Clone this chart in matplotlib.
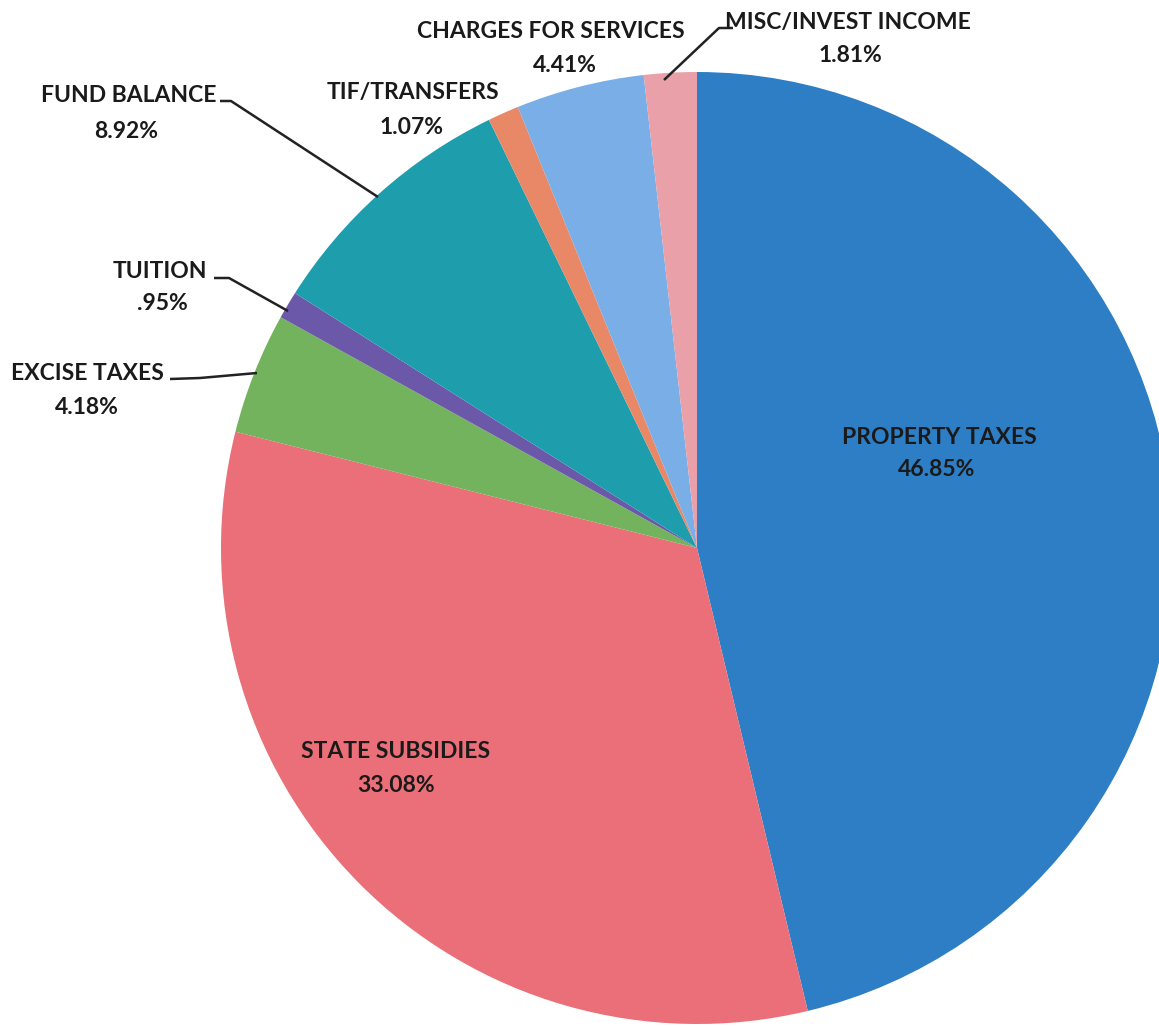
import matplotlib
matplotlib.use("Agg")
import matplotlib.pyplot as plt

# Revenue sources (percent of total budget), drawn clockwise from 12 o'clock
categories = ["PROPERTY TAXES", "STATE SUBSIDIES", "EXCISE TAXES", "TUITION",
              "FUND BALANCE", "TIF/TRANSFERS", "CHARGES FOR SERVICES",
              "MISC/INVEST INCOME"]
values = [46.85, 33.08, 4.18, 0.95, 8.92, 1.07, 4.41, 1.81]
value_labels = ["46.85%", "33.08%", "4.18%", ".95%", "8.92%", "1.07%",
                "4.41%", "1.81%"]
colors = ["#2E7EC5", "#EB6F78", "#74B35E", "#6B58A8", "#1E9DAD",
          "#E98866", "#7AAEE6", "#E9A0A9"]

W, H = 1159, 1026
fig = plt.figure(figsize=(W / 100, H / 100), dpi=100)
ax = fig.add_axes([0, 0, 1, 1])

cx, cy, r = 697, 548, 476  # pixel centre (from top) and radius


def Y(y):
    return H - y


ax.pie(values, colors=colors, startangle=90, counterclock=False,
       center=(cx, Y(cy)), radius=r, frame=True,
       wedgeprops=dict(linewidth=0))
ax.set_xlim(0, W)
ax.set_ylim(0, H)
ax.set_aspect("equal")
ax.axis("off")

font = dict(family=["Lato", "DejaVu Sans"], fontweight="bold",
            fontsize=16.5, color="#1a1a1a", ha="center", va="center")

# Inside labels
ax.text(939, Y(437), categories[0], **font)
ax.text(937, Y(470), value_labels[0], **font)
ax.text(396, Y(751), categories[1], **font)
ax.text(396, Y(785), value_labels[1], **font)

# Outside labels: (name xy, value xy)
outside = {
    2: ((87, 373), (87, 408)),
    3: ((160, 271), (162, 304)),
    4: ((129, 96), (126, 131)),
    5: ((413, 92), (412, 127)),
    6: ((551, 32), (565, 66)),
    7: ((848, 22), (850, 56)),
}
for i, (p1, p2) in outside.items():
    ax.text(p1[0], Y(p1[1]), categories[i], **font)
    ax.text(p2[0], Y(p2[1]), value_labels[i], **font)

# Leader lines
leaders = [
    [(170, 379), (200, 378), (257, 373)],          # excise taxes
    [(214, 278), (229, 278), (288, 311)],          # tuition
    [(220, 101), (231, 101), (378, 197)],          # fund balance
    [(733, 28), (719, 28), (664, 80)],             # misc/invest income
]
for pts in leaders:
    xs = [p[0] for p in pts]
    ys = [Y(p[1]) for p in pts]
    ax.plot(xs, ys, color="#222222", linewidth=1.8, solid_capstyle="butt")

fig.savefig("out.png", dpi=100, facecolor="white")
